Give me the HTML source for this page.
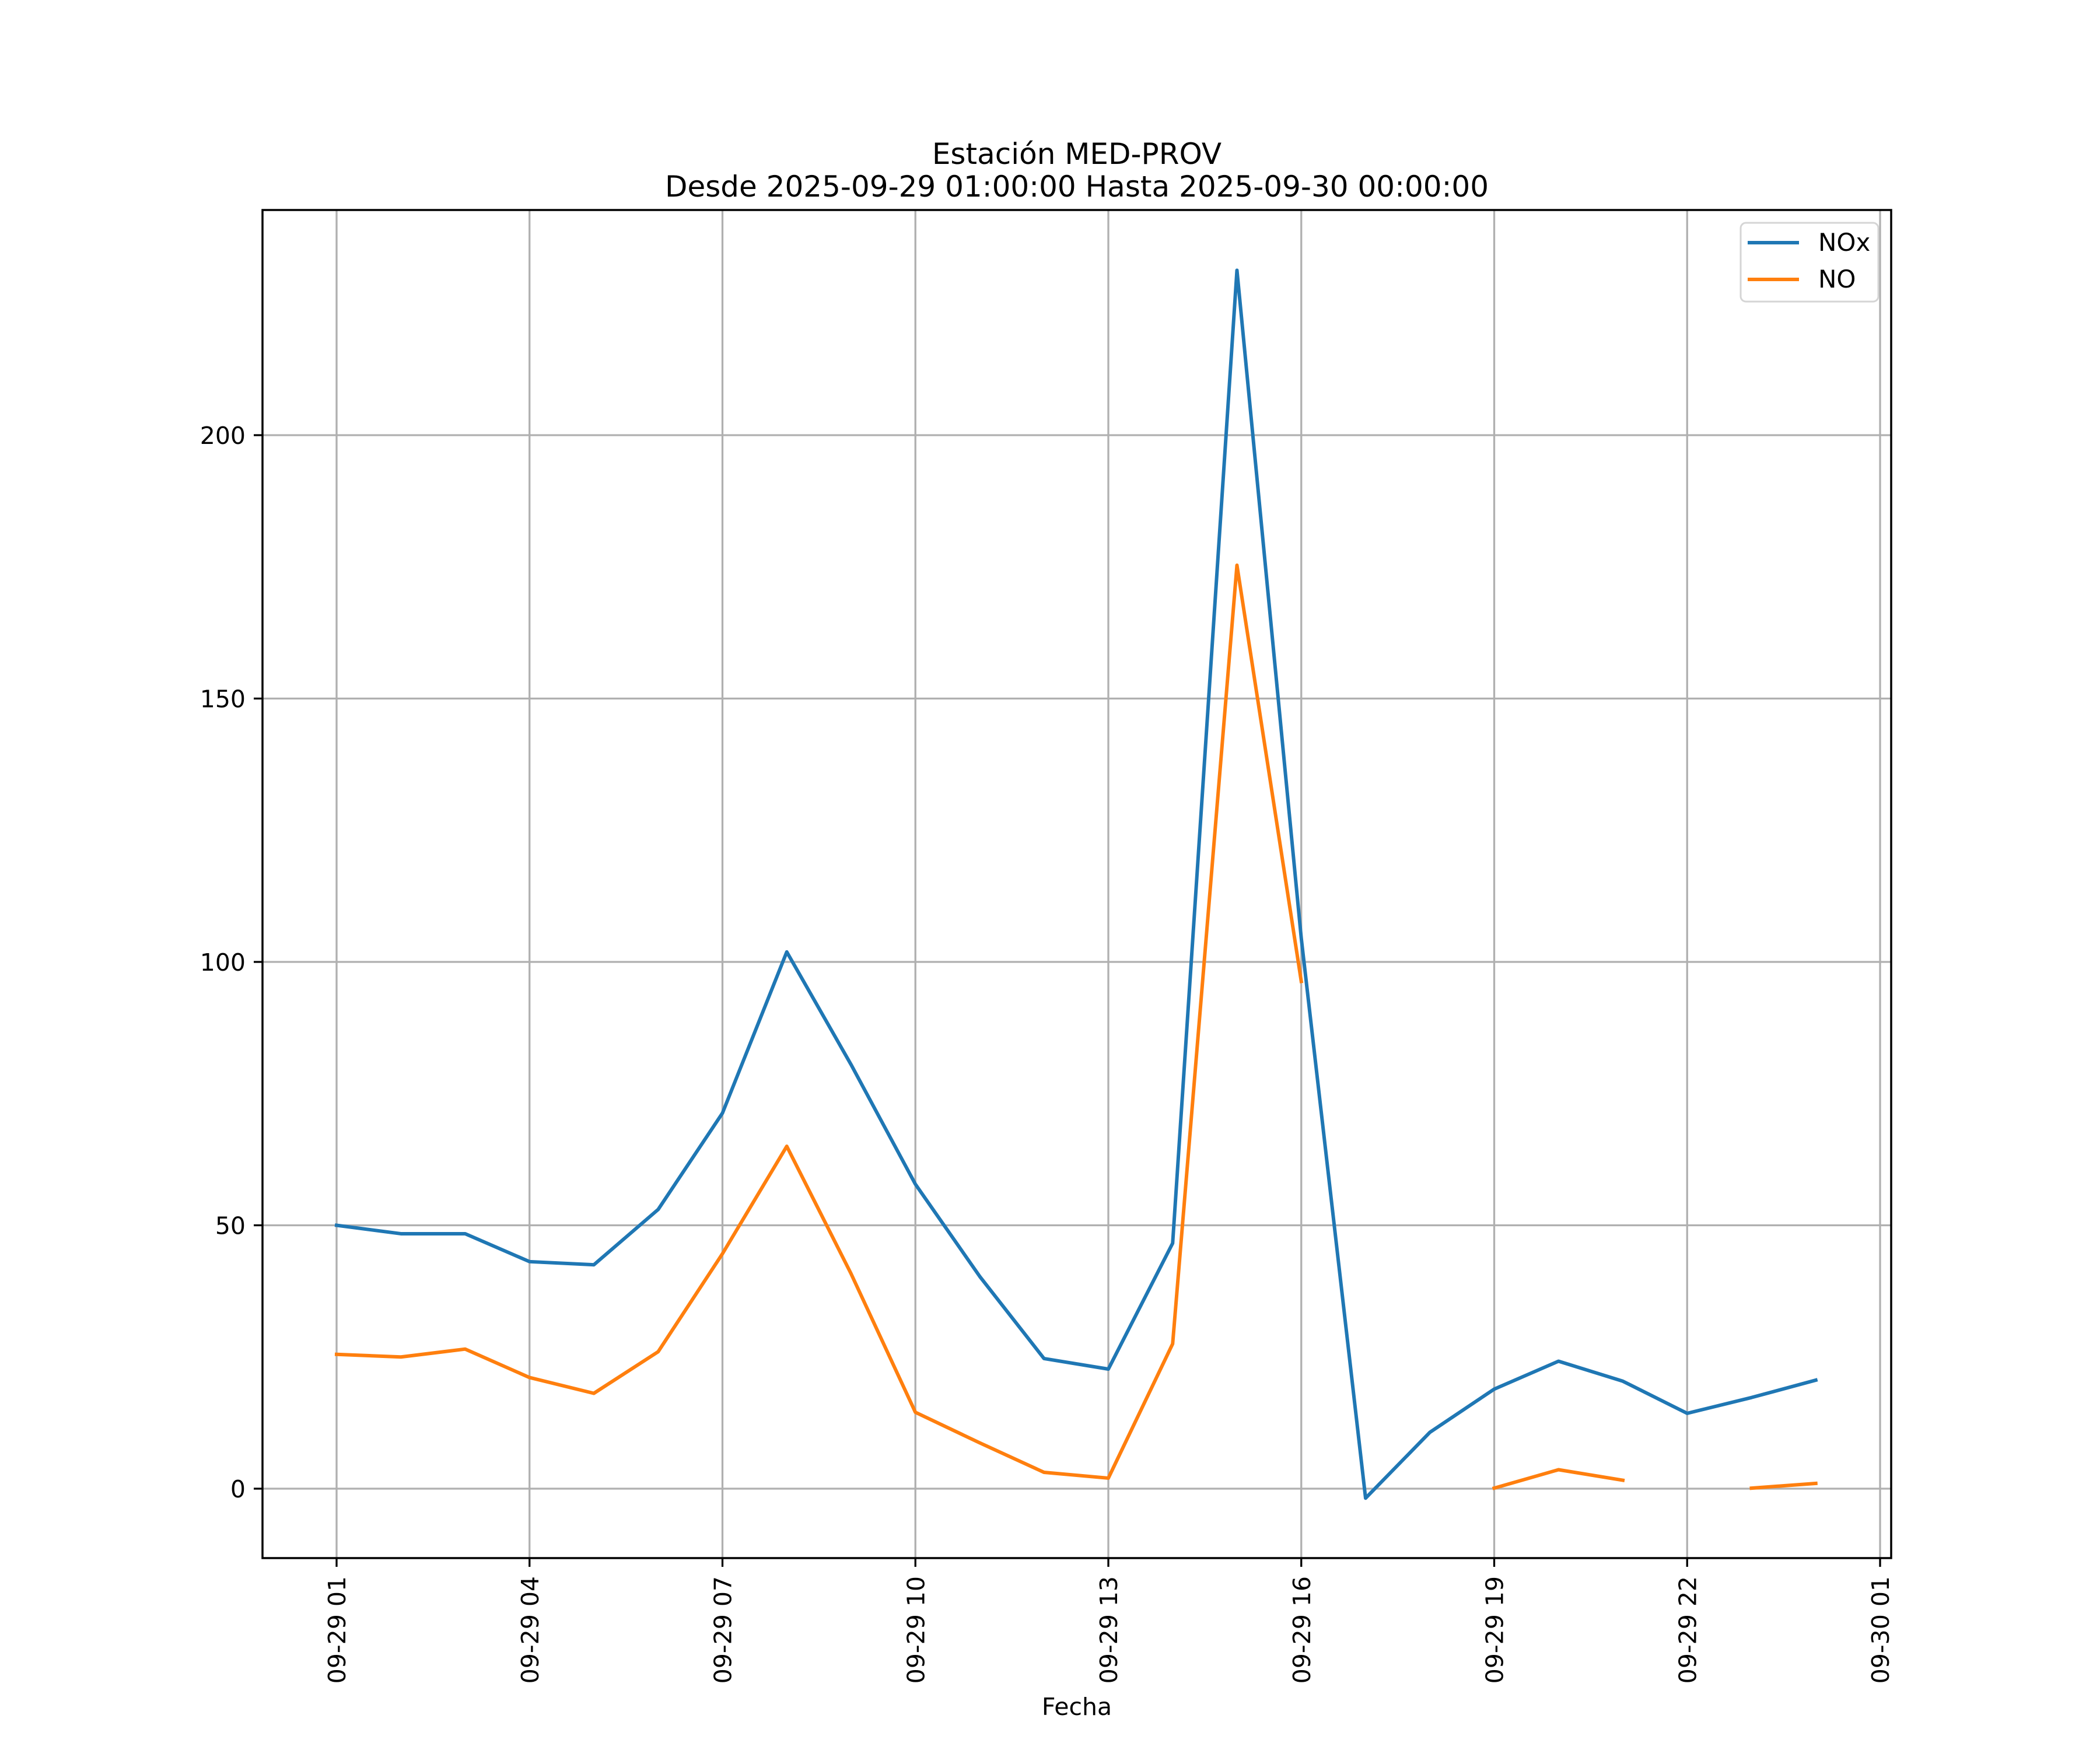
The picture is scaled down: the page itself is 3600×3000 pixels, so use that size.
<!DOCTYPE html>
<html><head><meta charset="utf-8"><style>
html,body{margin:0;padding:0;background:#fff;}
svg{display:block;}
text{font-family:"DejaVu Sans","Liberation Sans",sans-serif;fill:#000;}
</style></head><body>
<svg id="chart" width="3600" height="3000" viewBox="0 0 3600 3000" xmlns="http://www.w3.org/2000/svg">
<rect width="3600" height="3000" fill="#fff"/>
<text x="1846" y="281" font-size="50" text-anchor="middle">Estación MED-PROV</text>
<text x="1846" y="337" font-size="50" text-anchor="middle">Desde 2025-09-29 01:00:00 Hasta 2025-09-30 00:00:00</text>
<g id="grid"></g>
<g id="series"></g>
<g id="axes"></g>
<text x="1846" y="2940" font-size="41" text-anchor="middle">Fecha</text>
<g>
<rect x="2984" y="382" width="236" height="135" rx="9" fill="#fff" stroke="#d5d5d5" stroke-width="3"/>
<line x1="2996" y1="416" x2="3084" y2="416" stroke="#1f77b4" stroke-width="6"/>
<text x="3117" y="430" font-size="42">NOx</text>
<line x1="2996" y1="479" x2="3084" y2="479" stroke="#ff7f0e" stroke-width="6"/>
<text x="3117" y="493" font-size="42">NO</text>
</g>
</svg>
<script>
const hours = [1,2,3,4,5,6,7,8,9,10,11,12,13,14,15,16,17,18,19,20,21,22,23,24];
const noxValues = [50.0,48.4,48.4,43.1,42.5,53.0,71.3,101.9,80.5,57.8,40.3,24.7,22.7,46.6,231.3,104.5,-1.8,10.7,18.9,24.2,20.4,14.3,17.3,20.6];
const noValues = [25.5,25.0,26.5,21.1,18.1,26.0,44.6,65.0,40.8,14.5,8.7,3.1,2.0,27.5,175.3,96.3,null,null,0.1,3.6,1.6,null,0.1,1.0];
const yTicks = [0,50,100,150,200];
const xTickHours = [1,4,7,10,13,16,19,22,25];
const xTickLabels = ["09-29 01","09-29 04","09-29 07","09-29 10","09-29 13","09-29 16","09-29 19","09-29 22","09-30 01"];

const NS="http://www.w3.org/2000/svg";
const L=450,R=3242,T=360,B=2671;
function xs(h){return 577+(h-1)*(3223-577)/24;}
function ys(v){return 2552-v*(2552-746)/200;}
function mk(tag,attrs,parent){const e=document.createElementNS(NS,tag);for(const k in attrs)e.setAttribute(k,attrs[k]);parent.appendChild(e);return e;}
const grid=document.getElementById('grid'),axes=document.getElementById('axes'),series=document.getElementById('series');
yTicks.forEach(v=>{
  const y=ys(v);
  const g=mk('line',{x1:L,x2:R,y1:y,y2:y,stroke:'#b0b0b0','stroke-width':3.3},grid);
  
  
  mk('line',{x1:L-15,x2:L,y1:y,y2:y,stroke:'#000','stroke-width':3.3},axes);
  const t=mk('text',{x:L-29,y:y+15,'font-size':41,'text-anchor':'end'},axes);
  t.textContent=v;
  
  
});
xTickHours.forEach((h,i)=>{
  const x=xs(h);
  const g=mk('line',{x1:x,x2:x,y1:T,y2:B,stroke:'#b0b0b0','stroke-width':3.3},grid);
  
  
  mk('line',{x1:x,x2:x,y1:B,y2:B+15,stroke:'#000','stroke-width':3.3},axes);
  const t=mk('text',{x:0,y:0,'font-size':41,'text-anchor':'end',transform:`translate(${x+15},${B+31}) rotate(-90)`},axes);
  t.textContent=xTickLabels[i];
  
  
});
const frame=mk('rect',{x:L,y:T,width:R-L,height:B-T,fill:'none',stroke:'#000','stroke-width':3.5},axes);


function draw(vals,color,name){
  let d='',pen=false;
  vals.forEach((v,i)=>{
    if(v===null){pen=false;return;}
    d+=(pen?'L':'M')+xs(hours[i]).toFixed(2)+' '+ys(v).toFixed(2)+' ';
    pen=true;
  });
  const p=mk('path',{d:d,fill:'none',stroke:color,'stroke-width':6,'stroke-linejoin':'round','stroke-linecap':'square'},series);
  
  
}
draw(noxValues,'#1f77b4','nox-line');
draw(noValues,'#ff7f0e','no-line');
</script>
</body></html>
